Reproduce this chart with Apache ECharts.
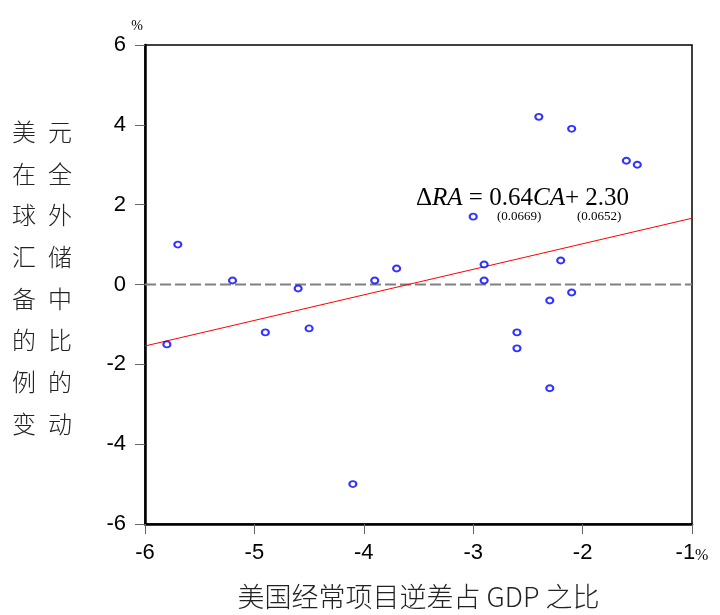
<!DOCTYPE html>
<html>
<head>
<meta charset="utf-8">
<script src="https://cdn.jsdelivr.net/npm/echarts@6/dist/echarts.min.js"></script>
<style>html,body{margin:0;padding:0;background:#fff;}#c{width:720px;height:615px;}</style>
</head>
<body>
<div id="c"></div>
<script>
// Scatter data: US current-account deficit (% of GDP) vs change in USD share of global reserves (%)
var caValues = [-5.8, -5.7, -5.2, -4.9, -4.6, -4.5, -4.1, -3.9, -3.7, -3.0, -2.9, -2.9, -2.6, -2.6, -2.4, -2.3, -2.3, -2.2, -2.1, -2.1, -1.6, -1.5];
var raValues = [-1.5, 1.0, 0.1, -1.2, -0.1, -1.1, -5.0, 0.1, 0.4, 1.7, 0.5, 0.1, -1.2, -1.6, 4.2, -0.4, -2.6, 0.6, 3.9, -0.2, 3.1, 3.0];
// Fitted line endpoints (ΔRA = 0.64CA + 2.30)
var fitX = [-6, -1];
var fitY = [-1.54, 1.66];
// Zero reference line
var zeroX = [-6, -1];
var zeroY = [0, 0];
var xTicks = [-6, -5, -4, -3, -2, -1];
var yTicks = [-6, -4, -2, 0, 2, 4, 6];

var scatterData = caValues.map(function (x, i) { return [x, raValues[i]]; });
var fitData = fitX.map(function (x, i) { return [x, fitY[i]]; });
var zeroData = zeroX.map(function (x, i) { return [x, zeroY[i]]; });

var chart = echarts.init(document.getElementById('c'), null, { renderer: 'canvas' });
var sans = 'Liberation Sans, Arial, sans-serif';
var serif = 'Liberation Serif, Times New Roman, serif';
var cjk = 'Noto Sans CJK SC';

chart.setOption({
  backgroundColor: '#fff',
  animation: false,
  grid: { left: 145, right: 28, top: 45, bottom: 88, show: true, borderColor: '#000', borderWidth: 1.5, backgroundColor: 'transparent' },
  xAxis: {
    type: 'value', min: -6, max: -1, interval: 1,
    name: '美国经常项目逆差占 GDP 之比', nameLocation: 'middle', nameGap: 59,
    nameTextStyle: { fontFamily: cjk, fontSize: 27, color: '#222', fontWeight: 300 },
    axisLine: { show: true, onZero: false, lineStyle: { color: '#000', width: 2.5 } },
    axisTick: { show: true, inside: false, length: 10, lineStyle: { color: '#666', width: 1 } },
    axisLabel: {
      fontFamily: sans, fontSize: 22, color: '#000', margin: 18,
      formatter: function (v) { return v === xTicks[xTicks.length - 1] ? v + '{p|%}' : String(v); },
      rich: { p: { fontFamily: serif, fontSize: 16, color: '#000', verticalAlign: 'bottom', padding: [6, 0, 0, 0] } }
    },
    splitLine: { show: false }
  },
  yAxis: {
    type: 'value', min: -6, max: 6, interval: 2,
    name: '%', nameLocation: 'end', nameGap: 12,
    nameTextStyle: { fontFamily: serif, fontSize: 14, color: '#000', padding: [0, 16, 0, 0] },
    axisLine: { show: true, onZero: false, lineStyle: { color: '#000', width: 2.5 } },
    axisTick: { show: true, inside: false, length: 10, lineStyle: { color: '#666', width: 1 } },
    axisLabel: { fontFamily: sans, fontSize: 22, color: '#000', margin: 19 },
    splitLine: { show: false }
  },
  series: [
    {
      type: 'line', data: zeroData, symbol: 'none', silent: true,
      lineStyle: { color: '#808080', width: 2, type: [11, 4] }, z: 1
    },
    {
      type: 'line', data: fitData, symbol: 'none', silent: true,
      lineStyle: { color: '#ff0000', width: 1 }, z: 2
    },
    {
      type: 'scatter', data: scatterData, symbol: 'emptyCircle', symbolSize: [7, 6],
      itemStyle: { color: '#0000ff', borderWidth: 1.5 }, z: 3
    }
  ],
  graphic: [
    {
      type: 'text', left: 12, top: 111,
      style: { text: '美\n在\n球\n汇\n备\n的\n例\n变', fontFamily: cjk, fontSize: 24, fontWeight: 300, lineHeight: 41.7, fill: '#222' }
    },
    {
      type: 'text', left: 48, top: 111,
      style: { text: '元\n全\n外\n储\n中\n比\n的\n动', fontFamily: cjk, fontSize: 24, fontWeight: 300, lineHeight: 41.7, fill: '#222' }
    },
    {
      type: 'text', left: 416, top: 186,
      style: {
        text: '{n|Δ}{i|RA}{n| = 0.64}{i|CA}{n|+ 2.30}',
        rich: {
          n: { fontFamily: serif, fontSize: 25, fill: '#000' },
          i: { fontFamily: serif, fontSize: 25, fontStyle: 'italic', fill: '#000' }
        }
      }
    },
    {
      type: 'text', left: 497, top: 210,
      style: { text: '(0.0669)', fontFamily: serif, fontSize: 13, fill: '#000' }
    },
    {
      type: 'text', left: 577, top: 210,
      style: { text: '(0.0652)', fontFamily: serif, fontSize: 13, fill: '#000' }
    }
  ]
});
</script>
</body>
</html>
